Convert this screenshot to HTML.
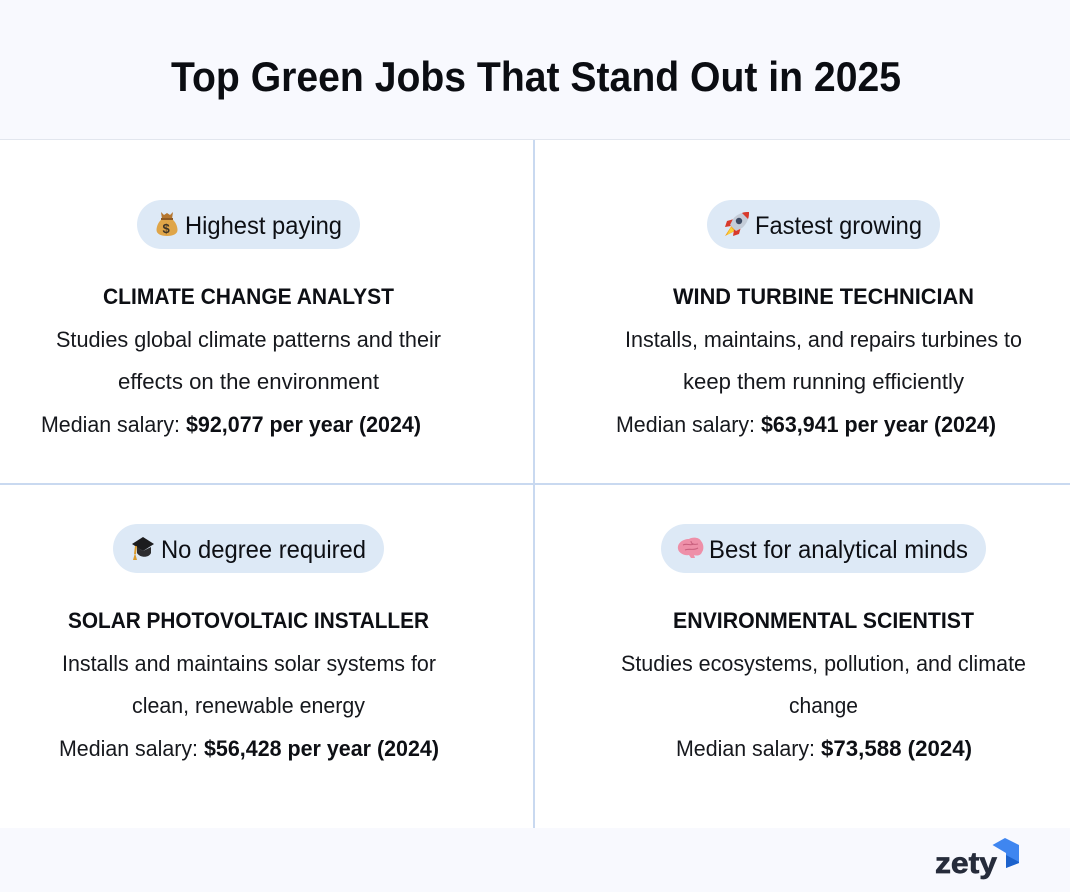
<!DOCTYPE html>
<html lang="en">
<head>
<meta charset="utf-8">
<title>Top Green Jobs That Stand Out in 2025</title>
<style>
html,body{margin:0;padding:0;background:#fff}
svg{display:block}
text{font-family:"Liberation Sans",sans-serif;fill:#0d0f14}
.head{font-weight:700;font-size:22px}
.body{font-size:22px;fill:#16181d}
.bold{font-weight:700;font-size:22px}
.pill{font-size:25px;fill:#0d0f14}
</style>
</head>
<body>
<svg width="1070" height="892" viewBox="0 0 1070 892" xmlns="http://www.w3.org/2000/svg">
  <rect x="0" y="0" width="1070" height="892" fill="#ffffff"/>
  <rect x="0" y="0" width="1070" height="139" fill="#f8f9fe"/>
  <rect x="0" y="139" width="1070" height="1" fill="#e2e6ee"/>
  <rect x="0" y="828" width="1070" height="64" fill="#f8f9fe"/>
  <rect x="533" y="140" width="2" height="688" fill="#c9d9f0"/>
  <rect x="0" y="483" width="1070" height="2" fill="#c9d9f0"/>

  <text x="171" y="91" textLength="730" lengthAdjust="spacingAndGlyphs" font-size="42" font-weight="700" style="fill:#0b0d12">Top Green Jobs That Stand Out in 2025</text>

  <!-- Pills -->
  <rect x="137" y="200" width="223" height="49" rx="24.5" fill="#dde9f6"/>
  <rect x="707" y="200" width="233" height="49" rx="24.5" fill="#dde9f6"/>
  <rect x="113" y="524" width="271" height="49" rx="24.5" fill="#dde9f6"/>
  <rect x="661" y="524" width="325" height="49" rx="24.5" fill="#dde9f6"/>

  <text class="pill" x="185" y="234" textLength="157" lengthAdjust="spacingAndGlyphs">Highest paying</text>
  <text class="pill" x="755" y="234" textLength="167" lengthAdjust="spacingAndGlyphs">Fastest growing</text>
  <text class="pill" x="161" y="558" textLength="205" lengthAdjust="spacingAndGlyphs">No degree required</text>
  <text class="pill" x="709" y="558" textLength="259" lengthAdjust="spacingAndGlyphs">Best for analytical minds</text>

  <!-- Money bag icon -->
  <g>
    <path d="M161 212 L164 215 L167 213 L170 215 L173 212 L172 219 L162 219 Z" fill="#b5762f"/>
    <path d="M162 219 H172 C176 222 177.500 227 177.500 230 C177.500 234 173 236 167 236 C161 236 156.500 234 156.500 230 C156.500 227 158 222 162 219 Z" fill="#dfa548"/>
    <rect x="161" y="218" width="12" height="2" fill="#8f5a22"/>
    <text x="162.500" y="233" font-size="13" font-weight="700" style="fill:#3d3326">$</text>
  </g>

  <!-- Rocket icon -->
  <g>
    <path d="M732 225 L725 236 L737 230 Z" fill="#f6a21d"/>
    <path d="M731 227 L727 235 L734 231 Z" fill="#f8d13a"/>
    <path d="M734 219 L727 221 L725 227 L731 226 Z" fill="#d8392b"/>
    <path d="M741 227 L739 234 L733 236 L734 230 Z" fill="#d8392b"/>
    <path d="M733 219 C737 214 743 212 749 212 C749 218 747 224 742 228 L736 231 L730 225 Z" fill="#c4ccd8"/>
    <path d="M742 213 C744 212 747 212 749 212 C749 214 749 217 748 219 Z" fill="#d8392b"/>
    <circle cx="739" cy="221" r="3.200" fill="#3c4a63"/>
  </g>

  <!-- Graduation cap icon -->
  <g>
    <path d="M137 547 V553 C140 558 149 558 151 553 V547 L143 551 Z" fill="#2c2c2e"/>
    <path d="M143 537 L154 544 L143 551 L132 544 Z" fill="#1c1c1e"/>
    <path d="M136 546 L135 554" stroke="#d99a2b" stroke-width="2" fill="none"/>
    <path d="M135 553 L137 560 L133 560 Z" fill="#d99a2b"/>
  </g>

  <!-- Brain icon -->
  <g>
    <path d="M678 549 C677 543 683 539 689 539 C692 537 699 537 701 541 C704 544 704 550 702 552 C701 556 696 556 694 555 L695 558 L691 558 L689 555 C686 556 679 554 678 549 Z" fill="#ee8fa8"/>
    <path d="M683 545 C687 543 690 546 694 544 M685 550 C689 548 693 551 698 548 M691 541 C691 544 694 545 698 544" stroke="#c9607e" stroke-width="1.100" fill="none"/>
  </g>

  <!-- Highest paying card -->
  <g>
    <text class="head" x="103" y="304" textLength="291" lengthAdjust="spacingAndGlyphs">CLIMATE CHANGE ANALYST</text>
    <text class="body" x="56" y="347" textLength="385" lengthAdjust="spacingAndGlyphs">Studies global climate patterns and their</text>
    <text class="body" x="118" y="389" textLength="261" lengthAdjust="spacingAndGlyphs">effects on the environment</text>
    <text class="body" x="41" y="432" textLength="139" lengthAdjust="spacingAndGlyphs">Median salary:</text>
    <text class="bold" x="186" y="432" textLength="235" lengthAdjust="spacingAndGlyphs">$92,077 per year (2024)</text>
  </g>

  <!-- Fastest growing card -->
  <g>
    <text class="head" x="673" y="304" textLength="301" lengthAdjust="spacingAndGlyphs">WIND TURBINE TECHNICIAN</text>
    <text class="body" x="625" y="347" textLength="397" lengthAdjust="spacingAndGlyphs">Installs, maintains, and repairs turbines to</text>
    <text class="body" x="683" y="389" textLength="281" lengthAdjust="spacingAndGlyphs">keep them running efficiently</text>
    <text class="body" x="616" y="432" textLength="139" lengthAdjust="spacingAndGlyphs">Median salary:</text>
    <text class="bold" x="761" y="432" textLength="235" lengthAdjust="spacingAndGlyphs">$63,941 per year (2024)</text>
  </g>

  <!-- No degree card -->
  <g>
    <text class="head" x="68" y="628" textLength="361" lengthAdjust="spacingAndGlyphs">SOLAR PHOTOVOLTAIC INSTALLER</text>
    <text class="body" x="62" y="671" textLength="374" lengthAdjust="spacingAndGlyphs">Installs and maintains solar systems for</text>
    <text class="body" x="132" y="713" textLength="233" lengthAdjust="spacingAndGlyphs">clean, renewable energy</text>
    <text class="body" x="59" y="756" textLength="139" lengthAdjust="spacingAndGlyphs">Median salary:</text>
    <text class="bold" x="204" y="756" textLength="235" lengthAdjust="spacingAndGlyphs">$56,428 per year (2024)</text>
  </g>

  <!-- Analytical minds card -->
  <g>
    <text class="head" x="673" y="628" textLength="301" lengthAdjust="spacingAndGlyphs">ENVIRONMENTAL SCIENTIST</text>
    <text class="body" x="621" y="671" textLength="405" lengthAdjust="spacingAndGlyphs">Studies ecosystems, pollution, and climate</text>
    <text class="body" x="789" y="713" textLength="69" lengthAdjust="spacingAndGlyphs">change</text>
    <text class="body" x="676" y="756" textLength="139" lengthAdjust="spacingAndGlyphs">Median salary:</text>
    <text class="bold" x="821" y="756" textLength="151" lengthAdjust="spacingAndGlyphs">$73,588 (2024)</text>
  </g>

  <!-- Logo -->
  <g>
    <text x="935" y="873" textLength="62" lengthAdjust="spacingAndGlyphs" font-size="30" font-weight="700" style="fill:#262c3b;stroke:#262c3b;stroke-width:0.7">zety</text>
    <path d="M992.500 845 L1005 838 L1019 845 V863 L1006 868 V853 Z" fill="#3f86f0"/>
    <path d="M1006 855 L1019 862 V863 L1006 868 Z" fill="#1c62cc"/>
  </g>
</svg>
</body>
</html>
